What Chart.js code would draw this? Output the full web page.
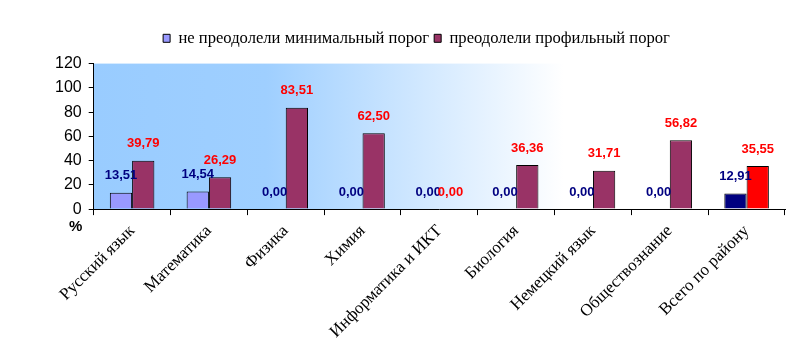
<!DOCTYPE html>
<html>
<head>
<meta charset="utf-8">
<script src="https://cdn.jsdelivr.net/npm/chart.js@4.4.1/dist/chart.umd.min.js"></script>
<style>
  html, body { margin: 0; padding: 0; background: #fff; }
  #wrap { width: 801px; height: 354px; position: relative; }
</style>
</head>
<body>
<div id="wrap"><canvas id="chart"></canvas></div>
<script>
// Data
const categories = ['Русский язык', 'Математика', 'Физика', 'Химия', 'Информатика и ИКТ',
  'Биология', 'Немецкий язык', 'Обществознание', 'Всего по району'];
const seriesNames = ['не преодолели минимальный порог', 'преодолели профильный порог'];
const belowMin = [13.51, 14.54, 0, 0, 0, 0, 0, 0, 12.91];
const aboveProfile = [39.79, 26.29, 83.51, 62.50, 0, 36.36, 31.71, 56.82, 35.55];
const yTicks = [0, 20, 40, 60, 80, 100, 120];

const lastIdx = categories.length - 1;
const fmt = v => v.toFixed(2).replace('.', ',');

// Plot area gradient (light blue -> white)
const plotBackground = {
  id: 'plotBackground',
  beforeDraw(chart) {
    const { ctx, chartArea: a } = chart;
    const g = ctx.createLinearGradient(a.left, 0, a.right, 0);
    g.addColorStop(0, '#99ccff');
    g.addColorStop(0.25, '#9fcfff');
    g.addColorStop(0.68, '#ffffff');
    g.addColorStop(1, '#ffffff');
    ctx.save();
    ctx.fillStyle = g;
    ctx.fillRect(a.left, a.top, a.right - a.left, a.bottom - a.top);
    ctx.restore();
  }
};

// Extra room under the legend
const legendMargin = {
  id: 'legendMargin',
  beforeInit(chart) {
    const fit = chart.legend.fit;
    chart.legend.fit = function () {
      fit.bind(chart.legend)();
      this.height += 7;
    };
  }
};

// Value labels above bars
const valueLabels = {
  id: 'valueLabels',
  afterDatasetsDraw(chart) {
    const ctx = chart.ctx;
    const colors = ['#000080', '#ff0000'];
    ctx.save();
    ctx.font = 'bold 13px "Liberation Sans", Arial, sans-serif';
    ctx.textAlign = 'center';
    ctx.textBaseline = 'middle';
    chart.data.datasets.forEach((ds, di) => {
      chart.getDatasetMeta(di).data.forEach((bar, i) => {
        ctx.fillStyle = colors[di];
        ctx.fillText(fmt(ds.data[i]), bar.x, bar.y - 17);
      });
    });
    ctx.restore();
  }
};

// "%" label under the value axis
const percentLabel = {
  id: 'percentLabel',
  afterDraw(chart) {
    const { ctx, chartArea: a } = chart;
    ctx.save();
    ctx.font = 'bold 15px "Liberation Sans", Arial, sans-serif';
    ctx.fillStyle = '#000';
    ctx.textAlign = 'center';
    ctx.textBaseline = 'middle';
    ctx.fillText('%', a.left - 18, a.bottom + 18);
    ctx.restore();
  }
};

new Chart(document.getElementById('chart'), {
  type: 'bar',
  data: {
    labels: categories,
    datasets: [{
      label: seriesNames[0],
      data: belowMin,
      backgroundColor: c => c.dataIndex === lastIdx ? '#000080' : '#9999ff',
      borderColor: '#000',
      borderWidth: 1
    }, {
      label: seriesNames[1],
      data: aboveProfile,
      backgroundColor: c => c.dataIndex === lastIdx ? '#ff0000' : '#993366',
      borderColor: '#000',
      borderWidth: 1
    }]
  },
  options: {
    responsive: true,
    maintainAspectRatio: false,
    animation: false,
    categoryPercentage: 0.58,
    barPercentage: 1,
    layout: { padding: { top: 25, right: 16, left: 48, bottom: 6 } },
    plugins: {
      legend: {
        position: 'top',
        labels: {
          boxWidth: 7,
          boxHeight: 8,
          padding: 5,
          color: '#000',
          font: { family: '"Liberation Serif", "Times New Roman", serif', size: 16.6 }
        }
      },
      tooltip: { enabled: false }
    },
    scales: {
      x: {
        grid: { display: true, drawOnChartArea: false, drawTicks: true, tickLength: 6, color: '#000', offset: true },
        border: { display: true, color: '#000', width: 1 },
        ticks: {
          color: '#000',
          minRotation: 45,
          maxRotation: 45,
          padding: 6,
          font: { family: '"Liberation Serif", "Times New Roman", serif', size: 17 }
        }
      },
      y: {
        min: 0,
        max: 120,
        afterBuildTicks: axis => { axis.ticks = yTicks.map(v => ({ value: v })); },
        grid: { display: true, drawOnChartArea: false, drawTicks: true, tickLength: 5, color: '#000' },
        border: { display: true, color: '#000', width: 1 },
        ticks: {
          color: '#000',
          padding: 7,
          autoSkip: false,
          font: { family: '"Liberation Sans", Arial, sans-serif', size: 16 }
        }
      }
    }
  },
  plugins: [plotBackground, legendMargin, valueLabels, percentLabel]
});
</script>
</body>
</html>
